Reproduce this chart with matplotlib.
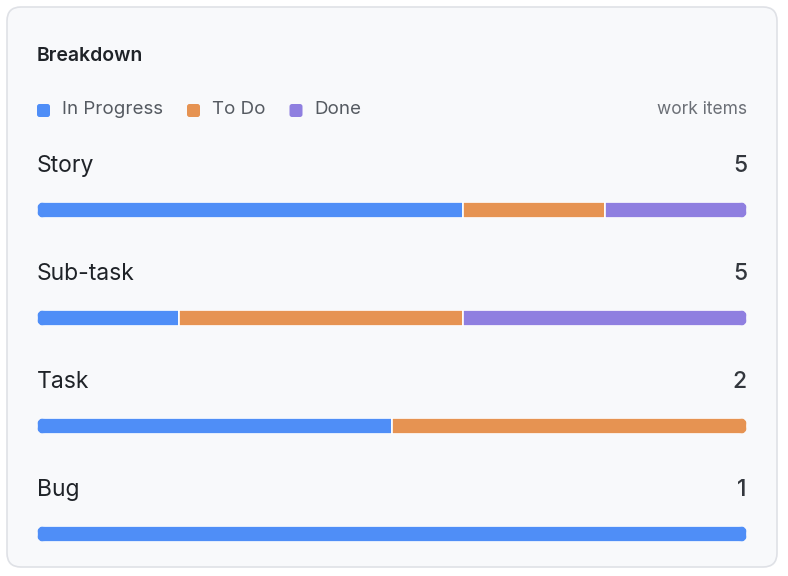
import matplotlib.pyplot as plt
from matplotlib.patches import FancyBboxPatch
import numpy as np

plt.rcParams['font.family'] = ['Inter', 'DejaVu Sans']

categories = ['Story', 'Sub-task', 'Task', 'Bug']
in_progress = [3, 1, 1, 1]
to_do = [1, 2, 1, 0]
done = [1, 2, 0, 0]
statuses = ['In Progress', 'To Do', 'Done']
colors = ['#4f8ef7', '#e69352', '#8f7fe0']

W, H = 788, 576
fig = plt.figure(figsize=(W / 100, H / 100), dpi=100)
ax = fig.add_axes([0, 0, 1, 1])
ax.set_xlim(0, W)
ax.set_ylim(0, H)
ax.axis('off')


def Y(y):
    # pixel row from top -> data y
    return H - y


# card
card = FancyBboxPatch((7, Y(567)), 770, 560, boxstyle='round,pad=0,rounding_size=14',
                      fc='#f8f9fb', ec='#dfe1e6', lw=1.2)
ax.add_patch(card)

ax.text(37, Y(56), 'Breakdown', fontsize=14, fontweight='semibold', color='#1f2328', va='center')

# legend
lx = 37
for name, c in zip(statuses, colors):
    ax.add_patch(FancyBboxPatch((lx, Y(117)), 13, 13, boxstyle='round,pad=0,rounding_size=2.5',
                                fc=c, ec='none'))
    t = ax.text(lx + 25, Y(110), name, fontsize=13.5, color='#555a61', va='center')
    fig.canvas.draw()
    bb = t.get_window_extent()
    lx = bb.x1 + 24
ax.text(747, Y(110), 'work items', fontsize=12.5, color='#6b6f76', va='center', ha='right')

x0, x1 = 37, 747
bw = x1 - x0
bh = 16
series = np.array([in_progress, to_do, done])
for i, cat in enumerate(categories):
    yc = 210 + i * 108
    total = series[:, i].sum()
    ax.text(x0, Y(yc - 44), cat, fontsize=16.5, color='#1f2328', va='center')
    ax.text(x1, Y(yc - 44), str(total), fontsize=16.5, color='#33373d', va='center',
            ha='right', fontweight='medium')
    clip = FancyBboxPatch((x0, Y(yc + bh / 2)), bw, bh, boxstyle='round,pad=0,rounding_size=8',
                          fc='none', ec='none')
    ax.add_patch(clip)
    left = x0
    for k in range(3):
        v = series[k, i]
        if v == 0:
            continue
        w = bw * v / total
        bars = ax.barh(Y(yc), w, left=left, height=bh, color=colors[k],
                       edgecolor='white', linewidth=1.2)
        for b in bars:
            b.set_clip_path(clip)
        left += w

fig.savefig('out.png', dpi=100)
